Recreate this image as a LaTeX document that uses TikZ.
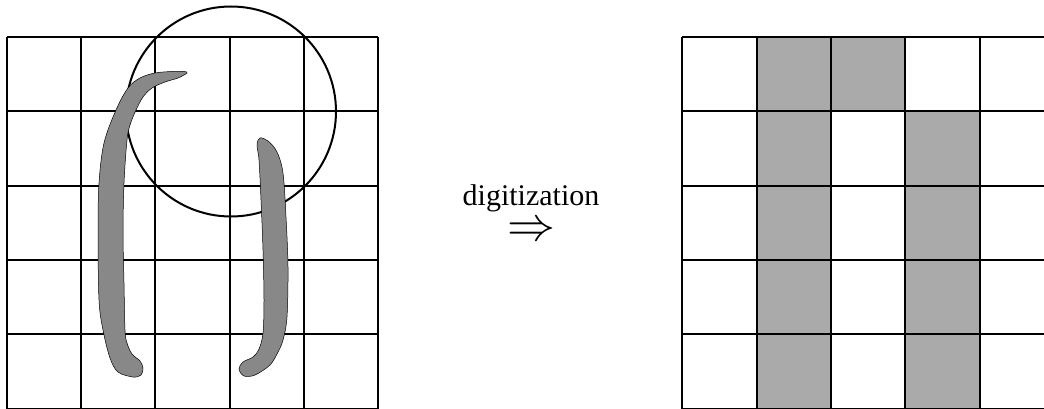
\documentclass[tikz,border=0pt]{standalone}
\usepackage{fontspec}
\usepackage{graphicx}
\setmainfont{Liberation Serif}
\definecolor{strokegray}{HTML}{888888}
\definecolor{cellgray}{HTML}{AAAAAA}
\begin{document}
\begin{tikzpicture}[x=1pt,y=-1pt,
  gridline/.style={line width=2pt,black},
  cellfill/.style={fill=cellgray},
  inkstroke/.style={fill=strokegray,draw=black,line width=0.5pt},
  lbl/.style={font=\fontsize{30}{36}\selectfont,inner sep=0pt}]
\useasboundingbox (0,0) rectangle (1044,409);
\begin{scope}
\clip (0,0) rectangle (1044,409);
% right grid fills
\def\cs{74.3}
\foreach \c/\r in {1/0,2/0,1/1,3/1,1/2,3/2,1/3,3/3,1/4,3/4}{
  \fill[cellfill] (682.3+\c*\cs,37+\r*\cs) rectangle ++(\cs,\cs);
}
% left grid
\foreach \i in {0,...,5}{
  \draw[gridline] (6.7+\i*\cs,37) -- (6.7+\i*\cs,408.5);
  \draw[gridline] (6.7,37+\i*\cs) -- (378.2,37+\i*\cs);
}
% right grid
\foreach \i in {0,...,5}{
  \draw[gridline] (682.3+\i*\cs,37) -- (682.3+\i*\cs,409);
  \draw[gridline] (682.3,37+\i*\cs) -- (1054,37+\i*\cs);
}
% circle
\draw[line width=2pt] (231,111.5) circle[radius=105];
% left stroke
\filldraw[inkstroke] plot[smooth cycle,tension=0.55] coordinates {
(187,73) (178,78) (165,82) (152,88) (143,97) (136,110) (130,125) (127,140)
(124,183) (123,233) (124,283) (125,330) (127,343) (132,354) (140,361)
(143,368) (141,375) (133,377) (118,372) (110,358) (103,330) (99,300)
(98,233) (99,183) (104,143) (116,110) (128,88) (140,78) (155,73) (172,71.5) (184,71.5)};
% right stroke
\filldraw[inkstroke] plot[smooth cycle,tension=0.55] coordinates {
(260,138) (268,141) (277,152) (283,173) (286,217) (288,267) (287,317)
(283,340) (278,352) (270,365) (255,375) (244,376) (239,369) (243,362)
(253,357) (259,349) (263,333) (264,300) (263,250) (261,200) (259,160) (257,145)};
\end{scope}
\node[lbl,anchor=base] (lab) at (531,205) {digitization};
\node[inner sep=0pt] (arr) at (531,232) {\scalebox{4.8}{$\Rightarrow$}};
\end{tikzpicture}
\end{document}
